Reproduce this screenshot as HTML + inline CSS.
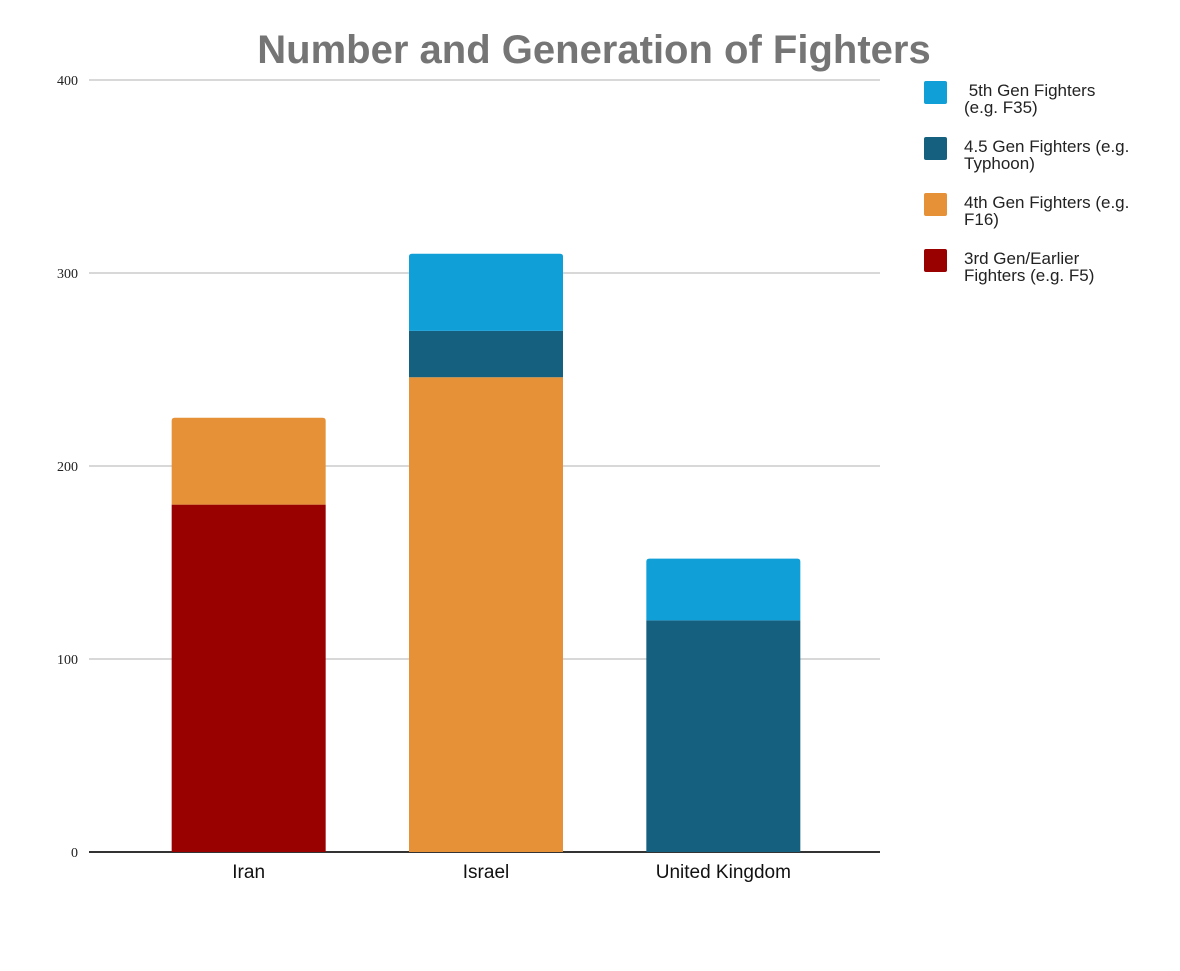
<!DOCTYPE html>
<html><head><meta charset="utf-8"><style>
body{margin:0;background:#fff;}
svg text{font-family:"Liberation Sans",sans-serif;}
</style></head><body>
<svg width="1180" height="966" xmlns="http://www.w3.org/2000/svg">
<text x="594" y="63" text-anchor="middle" font-size="40" font-weight="bold" fill="#757575">Number and Generation of Fighters</text>
<g id="grid"></g><g id="bars"></g><g id="xlab"></g><g id="legend"></g>
</svg>
<script>
const categories=["Iran","Israel","United Kingdom"];
const seriesNames=["3rd Gen/Earlier Fighters (e.g. F5)","4th Gen Fighters (e.g. F16)","4.5 Gen Fighters (e.g. Typhoon)","5th Gen Fighters (e.g. F35)"];
const gen3=[180,0,0];
const gen4=[45,246,0];
const gen45=[0,24,120];
const gen5=[0,40,32];
const yTicks=[0,100,200,300,400];
const colors=["#990000","#e69138","#16607f","#109fd7"];
const series=[gen3,gen4,gen45,gen5];
const NS="http://www.w3.org/2000/svg";
const y0=852,y1=80,yMax=400;
function y(v){return y0-(y0-y1)*v/yMax;}
const bandL=130,bandR=842,bw=154;
function xc(i){return bandL+(bandR-bandL)/categories.length*(i+0.5);}
function mk(tag,attrs,parent){const e=document.createElementNS(NS,tag);for(const k in attrs)e.setAttribute(k,attrs[k]);parent.appendChild(e);return e;}
const grid=document.getElementById('grid');
yTicks.forEach(t=>{
 const l=mk('line',{x1:89,x2:880,y1:y(t),y2:y(t),stroke:t===0?'#333':'#ccc','stroke-width':t===0?2:1.5},grid);
 
 
 const tx=mk('text',{x:78,y:y(t)+5,'text-anchor':'end','font-size':14,fill:'#222'},grid);
 tx.setAttribute('style','font-family:"Liberation Serif",serif');
 tx.textContent=t;
 
 
});
const bars=document.getElementById('bars');
categories.forEach((c,i)=>{
 let acc=0;
 let topIdx=-1;series.forEach((s,j)=>{if(s[i]>0)topIdx=j;});
 series.forEach((s,j)=>{
  const v=s[i];if(v<=0)return;
  const yt=y(acc+v),yb=y(acc);acc+=v;
  const x=xc(i)-bw/2;let d;
  if(j===topIdx){const r=3;d=`M${x},${yb}V${yt+r}Q${x},${yt} ${x+r},${yt}H${x+bw-r}Q${x+bw},${yt} ${x+bw},${yt+r}V${yb}Z`;}
  else d=`M${x},${yb}V${yt}H${x+bw}V${yb}Z`;
  const p=mk('path',{d:d,fill:colors[j]},bars);
  
  
 });
 const t=mk('text',{x:xc(i),y:878,'text-anchor':'middle','font-size':19,fill:'#111'},document.getElementById('xlab'));
 t.textContent=c;
 
 
});
const legendLines=[[" 5th Gen Fighters","(e.g. F35)"],["4.5 Gen Fighters (e.g.","Typhoon)"],["4th Gen Fighters (e.g.","F16)"],["3rd Gen/Earlier","Fighters (e.g. F5)"]];
const legColors=[colors[3],colors[2],colors[1],colors[0]];
const lg=document.getElementById('legend');
legendLines.forEach((ls,k)=>{
 const g=mk('g',{},lg);
 
 
 const top=81+k*56;
 mk('rect',{x:924,y:top,width:23,height:23,rx:2,fill:legColors[k]},g);
 ls.forEach((s,m)=>{const t=mk('text',{x:964,y:top+15+m*17,'font-size':17,fill:'#222'},g);t.setAttribute('xml:space','preserve');t.style.whiteSpace='pre';t.textContent=s;});
});
</script>
</body></html>
